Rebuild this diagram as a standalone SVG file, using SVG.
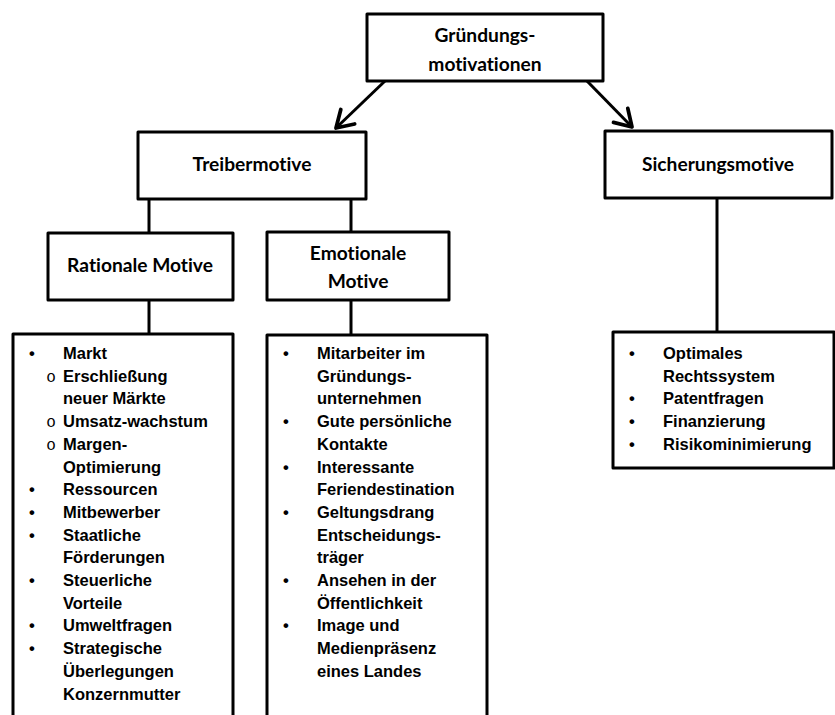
<svg xmlns="http://www.w3.org/2000/svg" width="835" height="715" viewBox="0 0 835 715">
  <defs>
    <style>
      .box { fill: #ffffff; stroke: #000000; stroke-width: 3; stroke-linejoin: round; }
      .open { fill: none; stroke: #000000; stroke-width: 3; stroke-linejoin: round; }
      .conn { fill: none; stroke: #000000; stroke-width: 3; }
      .title { font-family: Lato, "Open Sans", "Liberation Sans", sans-serif; font-weight: 700; font-size: 19.2px; fill: #000000; text-anchor: middle; font-variant-ligatures: none; font-feature-settings: "liga" 0, "dlig" 0; }
      .item { font-family: "Liberation Sans", Arial, sans-serif; font-weight: 700; font-size: 16.5px; fill: #000000; }
      .dot { font-family: "Liberation Sans", Arial, sans-serif; font-weight: 700; font-size: 16.5px; fill: #000000; text-anchor: middle; }
      .sub { font-family: "Liberation Mono", "Courier New", monospace; font-size: 16px; fill: #000000; text-anchor: middle; }
    </style>
    <marker id="vhead" markerUnits="userSpaceOnUse" markerWidth="30" markerHeight="30" refX="0" refY="0" viewBox="-16 -12 20 24" orient="auto" overflow="visible">
      <path d="M -13 -8 L 0 0 L -13 8" fill="none" stroke="#000000" stroke-width="3" stroke-linecap="round" stroke-linejoin="round"/>
    </marker>
  </defs>

  <!-- connectors -->
  <g id="connectors">
    <line class="conn" x1="385" y1="81" x2="336" y2="128" marker-end="url(#vhead)"/>
    <line class="conn" x1="587" y1="81" x2="632" y2="127" marker-end="url(#vhead)"/>
    <line class="conn" x1="149" y1="199" x2="149" y2="233"/>
    <line class="conn" x1="351" y1="199" x2="351" y2="232"/>
    <line class="conn" x1="149" y1="300" x2="149" y2="334"/>
    <line class="conn" x1="351" y1="300" x2="351" y2="335"/>
    <line class="conn" x1="717" y1="198" x2="717" y2="332"/>
  </g>

  <!-- root -->
  <g id="gruendungsmotivationen">
    <rect class="box" x="367" y="14" width="236" height="67"/>
    <text class="title"><tspan x="485" y="42">Gründungs-</tspan><tspan x="485" y="71">motivationen</tspan></text>
  </g>

  <!-- second level -->
  <g id="treibermotive">
    <rect class="box" x="138" y="132" width="228" height="67"/>
    <text class="title" x="252" y="171">Treibermotive</text>
  </g>
  <g id="sicherungsmotive">
    <rect class="box" x="605" y="131" width="227" height="67"/>
    <text class="title" x="718" y="171">Sicherungsmotive</text>
  </g>

  <!-- third level -->
  <g id="rationale-motive">
    <rect class="box" x="48" y="233" width="185" height="67"/>
    <text class="title" x="140" y="272">Rationale Motive</text>
  </g>
  <g id="emotionale-motive">
    <rect class="box" x="267" y="232" width="182" height="68"/>
    <text class="title"><tspan x="358" y="260">Emotionale</tspan><tspan x="358" y="288">Motive</tspan></text>
  </g>

  <!-- list of rational motives -->
  <g id="liste-rational">
    <path class="open" d="M 13 722 L 13 334 L 233 334 L 233 722"/>
    <text class="dot" x="32" y="359">•</text>
    <text class="sub" x="51" y="381.7">o</text>
    <text class="sub" x="51" y="427.1">o</text>
    <text class="sub" x="51" y="449.8">o</text>
    <text class="dot" x="32" y="495.2">•</text>
    <text class="dot" x="32" y="517.9">•</text>
    <text class="dot" x="32" y="540.6">•</text>
    <text class="dot" x="32" y="586">•</text>
    <text class="dot" x="32" y="631.4">•</text>
    <text class="dot" x="32" y="654.1">•</text>
    <text class="item">
      <tspan x="63" y="359">Markt</tspan>
      <tspan x="63" y="381.7">Erschließung</tspan>
      <tspan x="63" y="404.4">neuer Märkte</tspan>
      <tspan x="63" y="427.1">Umsatz-wachstum</tspan>
      <tspan x="63" y="449.8">Margen-</tspan>
      <tspan x="63" y="472.5">Optimierung</tspan>
      <tspan x="63" y="495.2">Ressourcen</tspan>
      <tspan x="63" y="517.9">Mitbewerber</tspan>
      <tspan x="63" y="540.6">Staatliche</tspan>
      <tspan x="63" y="563.3">Förderungen</tspan>
      <tspan x="63" y="586">Steuerliche</tspan>
      <tspan x="63" y="608.7">Vorteile</tspan>
      <tspan x="63" y="631.4">Umweltfragen</tspan>
      <tspan x="63" y="654.1">Strategische</tspan>
      <tspan x="63" y="676.8">Überlegungen</tspan>
      <tspan x="63" y="699.5">Konzernmutter</tspan>
    </text>
  </g>

  <!-- list of emotional motives -->
  <g id="liste-emotional">
    <path class="open" d="M 267 722 L 267 335 L 487 335 L 487 722"/>
    <text class="dot" x="286" y="359">•</text>
    <text class="dot" x="286" y="427.1">•</text>
    <text class="dot" x="286" y="472.5">•</text>
    <text class="dot" x="286" y="517.9">•</text>
    <text class="dot" x="286" y="586">•</text>
    <text class="dot" x="286" y="631.4">•</text>
    <text class="item">
      <tspan x="317" y="359">Mitarbeiter im</tspan>
      <tspan x="317" y="381.7">Gründungs-</tspan>
      <tspan x="317" y="404.4">unternehmen</tspan>
      <tspan x="317" y="427.1">Gute persönliche</tspan>
      <tspan x="317" y="449.8">Kontakte</tspan>
      <tspan x="317" y="472.5">Interessante</tspan>
      <tspan x="317" y="495.2">Feriendestination</tspan>
      <tspan x="317" y="517.9">Geltungsdrang</tspan>
      <tspan x="317" y="540.6">Entscheidungs-</tspan>
      <tspan x="317" y="563.3">träger</tspan>
      <tspan x="317" y="586">Ansehen in der</tspan>
      <tspan x="317" y="608.7">Öffentlichkeit</tspan>
      <tspan x="317" y="631.4">Image und</tspan>
      <tspan x="317" y="654.1">Medienpräsenz</tspan>
      <tspan x="317" y="676.8">eines Landes</tspan>
    </text>
  </g>

  <!-- list of safeguarding motives -->
  <g id="liste-sicherung">
    <rect class="box" x="613" y="332" width="221" height="136"/>
    <text class="dot" x="632" y="359">•</text>
    <text class="dot" x="632" y="404.4">•</text>
    <text class="dot" x="632" y="427.1">•</text>
    <text class="dot" x="632" y="449.8">•</text>
    <text class="item">
      <tspan x="663" y="359">Optimales</tspan>
      <tspan x="663" y="381.7">Rechtssystem</tspan>
      <tspan x="663" y="404.4">Patentfragen</tspan>
      <tspan x="663" y="427.1">Finanzierung</tspan>
      <tspan x="663" y="449.8">Risikominimierung</tspan>
    </text>
  </g>
</svg>
